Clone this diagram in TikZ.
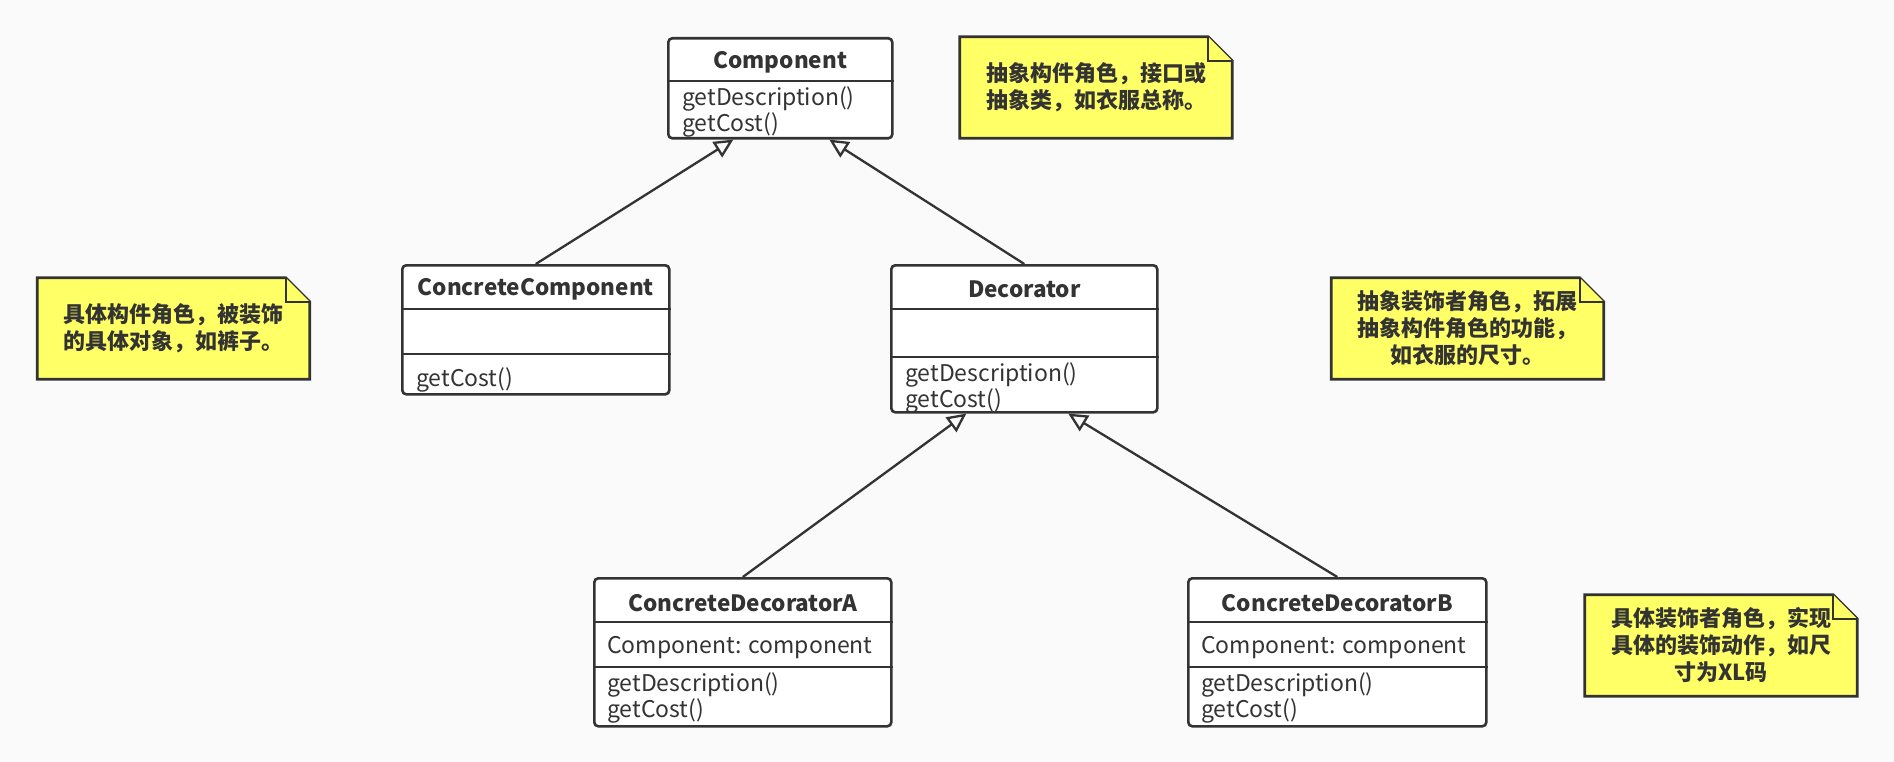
\documentclass[tikz,border=0pt]{standalone}
\usepackage{fontspec}
\setmainfont{Noto Sans CJK SC}
\usetikzlibrary{arrows.meta,positioning}

\definecolor{inkgray}{RGB}{51,51,51}
\definecolor{notefill}{RGB}{255,255,102}
\definecolor{paper}{RGB}{250,250,250}

\begin{document}
\begin{tikzpicture}[
    x=1pt, y=-1pt,
    classbox/.style={draw=inkgray, fill=white, line width=2.6pt, rounded corners=4pt, inner sep=0pt, anchor=north west},
    classname/.style={font=\bfseries\fontsize{22.5}{27}\selectfont, text=inkgray, inner sep=0pt},
    member/.style={font=\fontsize{23}{27}\selectfont, text=inkgray, inner sep=0pt, anchor=west},
    divider/.style={draw=inkgray, line width=2.2pt},
    notearea/.style={minimum width=272pt, minimum height=101pt, inner sep=0pt, align=center, text=inkgray, font=\bfseries\fontsize{22}{27}\selectfont},
    notebox/.style={draw=inkgray, fill=notefill, line width=2.8pt, line join=miter},
    generalize/.style={draw=inkgray, line width=2.3pt, -{Triangle[length=19pt, width=18pt, fill=paper]}}
]
% background
\fill[paper] (0,0) rectangle (1894,762);

% Component
\node[classbox, minimum width=224pt, minimum height=100pt] (comp) at (667,37) {};
\node[classname] (compName) at ([yshift=-25pt]comp.north) {Component};
\draw[divider] ([yshift=-44pt]comp.north west) -- ([yshift=-44pt]comp.north east);
\node[member] (compOpA) at ([xshift=15pt, yshift=-62pt]comp.north west) {getDescription()};
\node[member] (compOpB) at ([xshift=15pt, yshift=-88pt]comp.north west) {getCost()};

% ConcreteComponent
\node[classbox, minimum width=267pt, minimum height=129pt] (ccomp) at (401,264) {};
\node[classname] (ccompName) at ([yshift=-25pt]ccomp.north) {ConcreteComponent};
\draw[divider] ([yshift=-45pt]ccomp.north west) -- ([yshift=-45pt]ccomp.north east);
\draw[divider] ([yshift=-90pt]ccomp.north west) -- ([yshift=-90pt]ccomp.north east);
\node[member] (ccompOpB) at ([xshift=15pt, yshift=-116pt]ccomp.north west) {getCost()};

% Decorator
\node[classbox, minimum width=266pt, minimum height=147pt] (dec) at (890,264) {};
\node[classname] (decName) at ([yshift=-25pt]dec.north) {Decorator};
\draw[divider] ([yshift=-45pt]dec.north west) -- ([yshift=-45pt]dec.north east);
\draw[divider] ([yshift=-93pt]dec.north west) -- ([yshift=-93pt]dec.north east);
\node[member] (decOpA) at ([xshift=15pt, yshift=-111pt]dec.north west) {getDescription()};
\node[member] (decOpB) at ([xshift=15pt, yshift=-137pt]dec.north west) {getCost()};

% ConcreteDecoratorA
\node[classbox, minimum width=297pt, minimum height=148pt] (cda) at (593,577) {};
\node[classname] (cdaName) at ([yshift=-26pt]cda.north) {ConcreteDecoratorA};
\draw[divider] ([yshift=-45pt]cda.north west) -- ([yshift=-45pt]cda.north east);
\node[member] (cdaAttr) at ([xshift=14pt, yshift=-71pt]cda.north west) {Component: component};
\draw[divider] ([yshift=-90pt]cda.north west) -- ([yshift=-90pt]cda.north east);
\node[member] (cdaOpA) at ([xshift=14pt, yshift=-108pt]cda.north west) {getDescription()};
\node[member] (cdaOpB) at ([xshift=14pt, yshift=-134pt]cda.north west) {getCost()};

% ConcreteDecoratorB
\node[classbox, minimum width=298pt, minimum height=148pt] (cdb) at (1187,577) {};
\node[classname] (cdbName) at ([yshift=-26pt]cdb.north) {ConcreteDecoratorB};
\draw[divider] ([yshift=-45pt]cdb.north west) -- ([yshift=-45pt]cdb.north east);
\node[member] (cdbAttr) at ([xshift=14pt, yshift=-71pt]cdb.north west) {Component: component};
\draw[divider] ([yshift=-90pt]cdb.north west) -- ([yshift=-90pt]cdb.north east);
\node[member] (cdbOpA) at ([xshift=14pt, yshift=-108pt]cdb.north west) {getDescription()};
\node[member] (cdbOpB) at ([xshift=14pt, yshift=-134pt]cdb.north west) {getCost()};

% generalizations
\draw[generalize] (ccomp.north) -- ([xshift=-47pt]comp.south);
\draw[generalize] (dec.north) -- ([xshift=49pt]comp.south);
\draw[generalize] (cda.north) -- ([xshift=-58pt]dec.south);
\draw[generalize] (cdb.north) -- ([xshift=44pt]dec.south);

% notes
\foreach \nm/\cx/\cy in {noteComp/1096/87.5, noteCComp/173.5/328.5, noteDec/1467.5/328.5, noteCDec/1721/645.5}{
  \path (\cx,\cy) node[minimum width=272pt, minimum height=101pt, inner sep=0pt] (\nm) {};
  \draw[notebox] (\nm.north west) -- ([xshift=-24pt]\nm.north east) -- ([yshift=-24pt]\nm.north east)
    -- (\nm.south east) -- (\nm.south west) -- cycle;
  \draw[notebox, line width=2.2pt] ([xshift=-24pt]\nm.north east) -- ([xshift=-24pt, yshift=-24pt]\nm.north east)
    -- ([yshift=-24pt]\nm.north east);
}
\node[notearea] (noteCompText) at (noteComp) {抽象构件角色，接口或\\抽象类，如衣服总称。};
\node[notearea] (noteCCompText) at (noteCComp) {具体构件角色，被装饰\\的具体对象，如裤子。};
\node[notearea] (noteDecText) at (noteDec) {抽象装饰者角色，拓展\\抽象构件角色的功能，\\如衣服的尺寸。};
\node[notearea] (noteCDecText) at (noteCDec) {具体装饰者角色，实现\\具体的装饰动作，如尺\\寸为XL码};
\end{tikzpicture}
\end{document}
